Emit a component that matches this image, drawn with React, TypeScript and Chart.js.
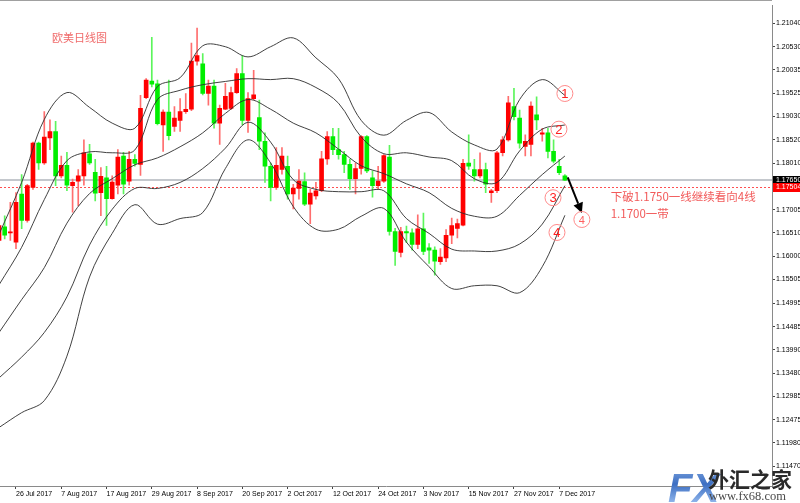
import React, { useEffect, useRef } from 'react';
import { Chart, registerables } from 'chart.js';

Chart.register(...registerables);

// ---- daily EURUSD candles (index 0 = 21 Jul 2017 ... 100 = 8 Dec 2017) ----
const opens = [
  1.1635, 1.1664, 1.1651, 1.1631, 1.1735, 1.1678, 1.1749, 1.1845, 1.1802, 1.1856,
  1.1870, 1.1774, 1.1797, 1.1753, 1.1763, 1.1774, 1.1822, 1.1782, 1.1738, 1.1770,
  1.1725, 1.1754, 1.1817, 1.1763, 1.1810, 1.1799, 1.1943, 1.1979, 1.1973, 1.1884,
  1.1912, 1.1881, 1.1894, 1.1913, 1.1918, 1.2022, 1.2016, 1.1952, 1.1968, 1.1888,
  1.1918, 1.1920, 1.1954, 1.1995, 1.1894, 1.1941, 1.1900, 1.1849, 1.1795, 1.1749,
  1.1788, 1.1795, 1.1735, 1.1747, 1.1762, 1.1713, 1.1731, 1.1742, 1.1811, 1.1859,
  1.1831, 1.1820, 1.1799, 1.1768, 1.1790, 1.1859, 1.1770, 1.1753, 1.1763, 1.1815,
  1.1654, 1.1609, 1.1654, 1.1651, 1.1626, 1.1660, 1.1619, 1.1614, 1.1589, 1.1597,
  1.1646, 1.1661, 1.1668, 1.1802, 1.1788, 1.1774, 1.1788, 1.1738, 1.1742, 1.1824,
  1.1852, 1.1924, 1.1899, 1.1838, 1.1842, 1.1906, 1.1864, 1.1867, 1.1827, 1.1795,
  1.1774,
];
const highs = [
  1.1674, 1.1688, 1.1717, 1.1738, 1.1777, 1.1756, 1.1847, 1.1847, 1.1913, 1.1895,
  1.1892, 1.1817, 1.1825, 1.1767, 1.1788, 1.1852, 1.1842, 1.1810, 1.1792, 1.1795,
  1.1774, 1.1831, 1.1825, 1.1827, 1.1820, 1.1948, 1.1984, 1.2073, 1.1981, 1.1917,
  1.1981, 1.1924, 1.1941, 1.1952, 1.2061, 1.2093, 1.2038, 1.1981, 1.1981, 1.1927,
  1.1974, 1.1966, 1.2006, 1.2034, 1.1954, 1.2002, 1.1938, 1.1867, 1.1802, 1.1835,
  1.1835, 1.1817, 1.1756, 1.1788, 1.1781, 1.1745, 1.1760, 1.1827, 1.1870, 1.1877,
  1.1877, 1.1827, 1.1810, 1.1802, 1.1861, 1.1861, 1.1785, 1.1795, 1.1820, 1.1840,
  1.1661, 1.1663, 1.1666, 1.1660, 1.1690, 1.1694, 1.1628, 1.1621, 1.1617, 1.1658,
  1.1683, 1.1681, 1.1810, 1.1863, 1.1810, 1.1824, 1.1802, 1.1745, 1.1827, 1.1859,
  1.1946, 1.1963, 1.1916, 1.1863, 1.1934, 1.1945, 1.1877, 1.1877, 1.1852, 1.1810,
  1.1777,
];
const lows = [
  1.1630, 1.1638, 1.1635, 1.1617, 1.1660, 1.1674, 1.1745, 1.1788, 1.1799, 1.1831,
  1.1753, 1.1770, 1.1742, 1.1696, 1.1710, 1.1754, 1.1799, 1.1720, 1.1688, 1.1667,
  1.1724, 1.1735, 1.1735, 1.1754, 1.1795, 1.1775, 1.1941, 1.1966, 1.1884, 1.1827,
  1.1852, 1.1870, 1.1870, 1.1909, 1.1915, 1.2013, 1.1949, 1.1927, 1.1877, 1.1842,
  1.1917, 1.1917, 1.1952, 1.1884, 1.1868, 1.1938, 1.1831, 1.1760, 1.1720, 1.1745,
  1.1778, 1.1724, 1.1703, 1.1724, 1.1710, 1.1671, 1.1724, 1.1740, 1.1799, 1.1820,
  1.1810, 1.1781, 1.1745, 1.1735, 1.1778, 1.1781, 1.1728, 1.1745, 1.1760, 1.1646,
  1.1581, 1.1599, 1.1630, 1.1614, 1.1617, 1.1604, 1.1585, 1.1560, 1.1583, 1.1589,
  1.1628, 1.1640, 1.1666, 1.1788, 1.1763, 1.1770, 1.1738, 1.1717, 1.1738, 1.1817,
  1.1849, 1.1895, 1.1834, 1.1817, 1.1817, 1.1874, 1.1849, 1.1813, 1.1802, 1.1777,
  1.1764,
];
const closes = [
  1.1667, 1.1646, 1.1653, 1.1717, 1.1678, 1.1753, 1.1845, 1.1802, 1.1858, 1.1870,
  1.1774, 1.1797, 1.1754, 1.1760, 1.1774, 1.1824, 1.1802, 1.1737, 1.1773, 1.1725,
  1.1761, 1.1815, 1.1756, 1.1810, 1.1801, 1.1920, 1.1981, 1.1972, 1.1887, 1.1912,
  1.1861, 1.1899, 1.1913, 1.1918, 1.2022, 1.2034, 1.1952, 1.1968, 1.1888, 1.1920,
  1.1946, 1.1954, 1.1995, 1.1894, 1.1941, 1.1949, 1.1849, 1.1795, 1.1749, 1.1797,
  1.1817, 1.1735, 1.1748, 1.1763, 1.1713, 1.1737, 1.1742, 1.1811, 1.1859, 1.1831,
  1.1820, 1.1799, 1.1768, 1.1790, 1.1859, 1.1785, 1.1753, 1.1763, 1.1818, 1.1654,
  1.1611, 1.1654, 1.1651, 1.1626, 1.1660, 1.1611, 1.1614, 1.1590, 1.1599, 1.1646,
  1.1667, 1.1671, 1.1801, 1.1795, 1.1774, 1.1788, 1.1756, 1.1742, 1.1824, 1.1852,
  1.1932, 1.1902, 1.1845, 1.1849, 1.1925, 1.1895, 1.1867, 1.1827, 1.1806, 1.1781,
  1.1765,
];

// ---- x axis date labels (bar index of each label) ----
const tickIdx = [3, 11, 19, 27, 35, 43, 51, 59, 67, 75, 83, 91, 99];
const tickLabels = [
  '26 Jul 2017', '7 Aug 2017', '17 Aug 2017', '29 Aug 2017', '8 Sep 2017',
  '20 Sep 2017', '2 Oct 2017', '12 Oct 2017', '24 Oct 2017', '3 Nov 2017',
  '15 Nov 2017', '27 Nov 2017', '7 Dec 2017',
];

// ---- price axis labels ----
const priceTicks = [
  1.2104, 1.2053, 1.20035, 1.19525, 1.1903, 1.1852, 1.1801, 1.17005, 1.1651,
  1.16, 1.15505, 1.14995, 1.14485, 1.1399, 1.1348, 1.12985, 1.12475, 1.1198, 1.1147,
];

// ---- Bollinger envelopes (sampled every 4 bars) ----
const bandIdx = [0, 4, 8, 12, 16, 20, 24, 28, 32, 36, 40, 44, 48, 52, 56, 60, 64, 68, 72, 76, 80, 84, 88, 92, 96, 100];
const bandUpper2 = [1.1648, 1.1760, 1.1896, 1.1954, 1.1922, 1.1888, 1.1877, 1.1967, 1.1986, 1.2055, 1.2053, 1.2031, 1.2053, 1.2072, 1.2029, 1.1984, 1.1894, 1.1862, 1.1894, 1.1911, 1.1869, 1.1841, 1.1832, 1.1939, 1.1982, 1.1948];
const bandUpper1 = [1.1539, 1.1620, 1.1723, 1.1807, 1.1826, 1.1824, 1.1830, 1.1939, 1.1959, 1.1971, 1.1978, 1.1984, 1.1982, 1.1984, 1.1965, 1.1931, 1.1858, 1.1822, 1.1824, 1.1815, 1.1807, 1.1768, 1.1760, 1.1828, 1.1875, 1.1884];
const bandMid = [1.1436, 1.1507, 1.1576, 1.1672, 1.1736, 1.1768, 1.1798, 1.1813, 1.1837, 1.1867, 1.1909, 1.1939, 1.1918, 1.1888, 1.1867, 1.1832, 1.1796, 1.1779, 1.1757, 1.1738, 1.1704, 1.1687, 1.1687, 1.1732, 1.1777, 1.1817];
const bandLower1 = [1.1338, 1.1383, 1.1436, 1.1513, 1.1625, 1.1702, 1.1747, 1.1747, 1.1760, 1.1790, 1.1834, 1.1890, 1.1847, 1.1766, 1.1745, 1.1740, 1.1740, 1.1742, 1.1682, 1.1650, 1.1616, 1.1612, 1.1612, 1.1627, 1.1670, 1.1753];
const bandLower2 = [1.1231, 1.1263, 1.1289, 1.1385, 1.1556, 1.1650, 1.1712, 1.1670, 1.1682, 1.1695, 1.1790, 1.1852, 1.1802, 1.1708, 1.1659, 1.1659, 1.1687, 1.1704, 1.1631, 1.1578, 1.1531, 1.1537, 1.1537, 1.1522, 1.1578, 1.1689];

// ---- price lines ----
const bidPrice = 1.1765;
const levelPrice = 1.17504;

// ---- circled marks: bar position, price, text ----
const markIdx = [100.0, 98.95, 97.9, 98.6, 103.0];
const markPrice = [1.1952, 1.1875, 1.1727, 1.1652, 1.168];
const markText = ['1', '2', '3', '4', '4'];

// ---- arrow (bar position / price) ----
const arrowFrom = [100.5, 1.1771];
const arrowTo = [103.0, 1.1694];

// ---- text notes ----
const titleText = '欧美日线图';
const titlePos = [9.36, 1.2073];
const noteLines = ['下破1.1750一线继续看向4线', '1.1700一带'];
const notePos = [[108.1, 1.1729], [108.1, 1.1693]];

const X_MIN = 0.173;
const X_MAX = 136.6;
const Y_MIN = 1.11047;
const Y_MAX = 1.21426;

const UP = '#ff0000';
const DOWN = '#00ee00';
const UP_WICK = '#ff6e6e';
const DOWN_WICK = '#5cf55c';
const BAND = 'rgba(45,45,45,0.9)';

const overlay = {
  id: 'overlay',
  beforeDatasetsDraw(chart: any) {
    const { ctx, chartArea: a, scales } = chart;
    const y = scales.y;
    ctx.save();
    // top border
    ctx.fillStyle = '#a0a0a0';
    ctx.fillRect(0, 0, a.right, 1);
    // current bid line
    const yb = y.getPixelForValue(bidPrice);
    ctx.fillStyle = '#c4c8cd';
    ctx.fillRect(a.left, Math.round(yb) - 1, a.right - a.left, 2);
    // level line (dotted red)
    const yl = Math.round(y.getPixelForValue(levelPrice));
    ctx.fillStyle = '#ff5050';
    for (let px = a.left; px < a.right; px += 4) {
      ctx.fillRect(px, yl, 2, 1);
    }
    ctx.restore();
  },
  afterDraw(chart: any) {
    const { ctx, chartArea: a, scales } = chart;
    const x = scales.x;
    const y = scales.y;
    ctx.save();

    // price boxes on the axis
    const boxes: [number, string, string][] = [
      [bidPrice, '#000000', bidPrice.toFixed(5)],
      [levelPrice, '#ff0000', levelPrice.toFixed(5)],
    ];
    ctx.font = '7px "Liberation Sans"';
    ctx.textBaseline = 'middle';
    ctx.textAlign = 'left';
    for (const [p, col, txt] of boxes) {
      const py = y.getPixelForValue(p);
      ctx.fillStyle = col;
      ctx.fillRect(a.right + 1, Math.round(py) - 4, 800 - a.right - 1, 9);
      ctx.fillStyle = '#ffffff';
      ctx.fillText(txt, a.right + 4, Math.round(py) + 0.5);
    }

    // title
    ctx.fillStyle = '#f06a6a';
    ctx.font = '11px "Noto Sans CJK SC"';
    ctx.textBaseline = 'middle';
    ctx.fillText(titleText, x.getPixelForValue(titlePos[0]), y.getPixelForValue(titlePos[1]));

    // notes
    ctx.fillStyle = '#f25a5a';
    ctx.font = '11.5px "Noto Sans CJK SC"';
    noteLines.forEach((t, i) => {
      ctx.fillText(t, x.getPixelForValue(notePos[i][0]), y.getPixelForValue(notePos[i][1]));
    });

    // arrow
    const x0 = x.getPixelForValue(arrowFrom[0]);
    const y0 = y.getPixelForValue(arrowFrom[1]);
    const x1 = x.getPixelForValue(arrowTo[0]);
    const y1 = y.getPixelForValue(arrowTo[1]);
    const ang = Math.atan2(y1 - y0, x1 - x0);
    const headLen = 10;
    const hx = x1 - headLen * Math.cos(ang);
    const hy = y1 - headLen * Math.sin(ang);
    ctx.strokeStyle = '#000';
    ctx.fillStyle = '#000';
    ctx.lineWidth = 2;
    ctx.beginPath();
    ctx.moveTo(x0, y0);
    ctx.lineTo(hx, hy);
    ctx.stroke();
    ctx.beginPath();
    ctx.moveTo(x1, y1);
    ctx.lineTo(hx + 5 * Math.cos(ang + Math.PI / 2), hy + 5 * Math.sin(ang + Math.PI / 2));
    ctx.lineTo(hx + 5 * Math.cos(ang - Math.PI / 2), hy + 5 * Math.sin(ang - Math.PI / 2));
    ctx.closePath();
    ctx.fill();

    // circled numbers
    markIdx.forEach((mi, i) => {
      const cx = x.getPixelForValue(mi);
      const cy = y.getPixelForValue(markPrice[i]);
      ctx.beginPath();
      ctx.strokeStyle = '#ff8a8a';
      ctx.lineWidth = 1;
      ctx.arc(cx, cy, 8, 0, Math.PI * 2);
      ctx.stroke();
      ctx.fillStyle = i === 4 ? '#ff6060' : '#ff2020';
      ctx.font = (i === 4 ? '11px' : '13px') + ' "Liberation Sans"';
      ctx.textAlign = 'center';
      ctx.textBaseline = 'middle';
      ctx.fillText(markText[i], cx, cy + 1);
    });

    // watermark logo
    ctx.textAlign = 'left';
    ctx.textBaseline = 'alphabetic';
    const g = ctx.createLinearGradient(0, 466, 0, 502);
    g.addColorStop(0, '#7fa6e0');
    g.addColorStop(0.5, '#3d6fc2');
    g.addColorStop(1, '#8db3ea');
    ctx.fillStyle = g;
    ctx.font = 'italic bold 40px "Liberation Sans"';
    ctx.fillText('FX', 668, 502);
    ctx.fillStyle = '#2a2a2a';
    ctx.font = 'bold 21px "Noto Sans CJK SC"';
    ctx.fillText('外汇之家', 708, 487);
    ctx.fillStyle = '#4a4a4a';
    ctx.font = '12.5px "Liberation Serif"';
    ctx.fillText('www.fx68.com', 709, 500);

    ctx.restore();
  },
};

export default function App() {
  const ref = useRef<HTMLCanvasElement | null>(null);

  useEffect(() => {
    document.body.style.margin = '0';
    const canvas = ref.current;
    if (!canvas) return;
    const n = opens.length;
    const isUp = (i: number) => closes[i] >= opens[i];
    const bodies = opens.map((o, i) => ({ x: i, y: [o, closes[i]] }));
    const wicks = lows.map((l, i) => ({ x: i, y: [l, highs[i]] }));
    const bodyColors = Array.from({ length: n }, (_, i) => (isUp(i) ? UP : DOWN));
    const wickColors = Array.from({ length: n }, (_, i) => (isUp(i) ? UP_WICK : DOWN_WICK));
    const mkBand = (arr: number[]) => arr.map((v, k) => ({ x: bandIdx[k], y: v }));
    const bandSet = [bandUpper2, bandUpper1, bandMid, bandLower1, bandLower2];

    const chart = new Chart(canvas, {
      type: 'bar',
      data: {
        datasets: [
          ...bandSet.map((b) => ({
            type: 'line' as const,
            data: mkBand(b),
            borderColor: BAND,
            borderWidth: 1,
            pointRadius: 0,
            tension: 0.35,
            fill: false,
            order: -1,
          })),
          {
            type: 'bar' as const,
            data: wicks as any,
            backgroundColor: wickColors,
            barThickness: 1,
            grouped: false,
            borderWidth: 0,
            minBarLength: 1,
            order: 2,
          },
          {
            type: 'bar' as const,
            data: bodies as any,
            backgroundColor: bodyColors,
            barThickness: 4,
            grouped: false,
            borderWidth: 0,
            minBarLength: 1,
            order: 1,
          },
        ] as any,
      },
      options: {
        animation: false,
        responsive: false,
        devicePixelRatio: 1,
        layout: { padding: { top: 1, left: 0, right: 0, bottom: 0 } },
        plugins: { legend: { display: false }, tooltip: { enabled: false } },
        scales: {
          x: {
            type: 'linear',
            min: X_MIN,
            max: X_MAX,
            offset: false,
            afterBuildTicks: (s: any) => {
              s.ticks = tickIdx.map((v) => ({ value: v }));
            },
            afterFit: (s: any) => {
              s.height = 17;
            },
            grid: {
              drawOnChartArea: false,
              drawTicks: true,
              tickLength: 3,
              color: '#444',
              offset: false,
            },
            border: { display: true, color: '#8a8a8a', width: 1 },
            ticks: {
              autoSkip: false,
              maxRotation: 0,
              minRotation: 0,
              align: 'start',
              padding: 1,
              color: '#000',
              font: { family: 'Liberation Sans', size: 7 },
              callback: (v: any) => {
                const k = tickIdx.indexOf(Number(v));
                return k >= 0 ? tickLabels[k] : '';
              },
            },
          },
          y: {
            type: 'linear',
            position: 'right',
            min: Y_MIN,
            max: Y_MAX,
            afterBuildTicks: (s: any) => {
              s.ticks = priceTicks.map((v) => ({ value: v }));
            },
            afterFit: (s: any) => {
              s.width = 28;
            },
            grid: {
              drawOnChartArea: false,
              drawTicks: true,
              tickLength: 3,
              color: '#444',
            },
            border: { display: true, color: '#8a8a8a', width: 1 },
            ticks: {
              autoSkip: false,
              padding: 1,
              color: '#000',
              font: { family: 'Liberation Sans', size: 7 },
              callback: (v: any) => Number(v).toFixed(5),
            },
          },
        },
      } as any,
      plugins: [overlay],
    });
    return () => chart.destroy();
  }, []);

  return (
    <div style={{ width: 800, height: 503, background: '#ffffff' }}>
      <canvas ref={ref} width={800} height={503} style={{ display: 'block' }} />
    </div>
  );
}
